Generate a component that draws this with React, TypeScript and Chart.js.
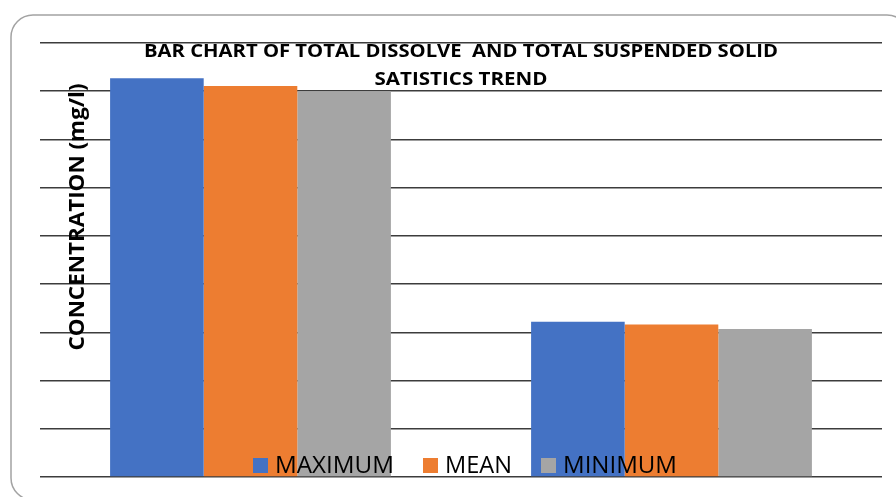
import React, { useEffect, useRef } from "react";
import { Chart, registerables } from "chart.js";

Chart.register(...registerables);

// Solid parameters on the category axis
const categories = ["TDS", "TSS"];

// Concentration statistics (mg/l)
const maximumValues = [827, 322];
const meanValues = [811, 316];
const minimumValues = [800, 307];

// Hidden value axis range
const axisMin = 0;
const axisMax = 900;
const axisStep = 100;

const titleLines = [
  "BAR CHART OF TOTAL DISSOLVE  AND TOTAL SUSPENDED SOLID",
  "SATISTICS TREND",
];
const yAxisTitle = "CONCENTRATION (mg/l)";

const seriesNames = ["MAXIMUM", "MEAN", "MINIMUM"];
const seriesColors = ["#4472C4", "#ED7D31", "#A5A5A5"];

// Draws text squeezed horizontally so it fits a given width (Calibri-like narrow look)
function fitText(
  ctx: CanvasRenderingContext2D,
  text: string,
  x: number,
  y: number,
  width: number
) {
  const natural = ctx.measureText(text).width;
  const sx = natural > 0 ? width / natural : 1;
  ctx.save();
  ctx.translate(x, y);
  ctx.scale(sx, 1);
  ctx.textAlign = "center";
  ctx.fillText(text, 0, 0);
  ctx.restore();
}

const framePlugin = {
  id: "frame",
  beforeDraw(chart: any) {
    const ctx = chart.ctx as CanvasRenderingContext2D;
    ctx.save();
    ctx.fillStyle = "#ffffff";
    ctx.fillRect(0, 0, chart.width, chart.height);
    ctx.strokeStyle = "#a3a3a3";
    ctx.lineWidth = 1.5;
    ctx.beginPath();
    (ctx as any).roundRect(11, 15, 898, 485, 22);
    ctx.stroke();
    ctx.restore();
  },
};

const overlayPlugin = {
  id: "overlay",
  afterDraw(chart: any) {
    const ctx = chart.ctx as CanvasRenderingContext2D;
    const area = chart.chartArea;
    const cx = (area.left + area.right) / 2;

    // Title
    ctx.save();
    ctx.fillStyle = "#000000";
    ctx.textBaseline = "alphabetic";
    ctx.font = "bold 17px 'Open Sans', sans-serif";
    fitText(ctx, titleLines[0], cx, 57, 634);
    fitText(ctx, titleLines[1], cx, 85, 173);
    ctx.restore();

    // Vertical axis title
    ctx.save();
    ctx.fillStyle = "#000000";
    ctx.font = "bold 21px 'Open Sans', sans-serif";
    ctx.translate(84, 217);
    ctx.rotate(-Math.PI / 2);
    fitText(ctx, yAxisTitle, 0, 0, 267);
    ctx.restore();

    // Legend along the bottom, over the bars
    ctx.save();
    ctx.font = "23px 'Open Sans', sans-serif";
    ctx.textBaseline = "alphabetic";
    const baseline = 473;
    const box = 15;
    const boxGap = 7;
    const itemGap = 29;
    const textWidths = [119, 67, 114];
    let total = 0;
    seriesNames.forEach((_, i) => {
      total += box + boxGap + textWidths[i];
      if (i < seriesNames.length - 1) total += itemGap;
    });
    let x = cx + 4 - total / 2;
    seriesNames.forEach((name, i) => {
      ctx.fillStyle = seriesColors[i];
      ctx.fillRect(x, baseline - box, box, box);
      x += box + boxGap;
      ctx.fillStyle = "#000000";
      const w = textWidths[i];
      fitText(ctx, name, x + w / 2, baseline, w);
      x += w + itemGap;
    });
    ctx.restore();
  },
};

export default function App() {
  const canvasRef = useRef<HTMLCanvasElement | null>(null);

  useEffect(() => {
    document.body.style.margin = "0";
    const canvas = canvasRef.current;
    if (!canvas) return;

    const datasets = [maximumValues, meanValues, minimumValues].map(
      (values, i) => ({
        label: seriesNames[i],
        data: values,
        backgroundColor: seriesColors[i],
        borderWidth: 0,
        barPercentage: 1,
        categoryPercentage: 0.667,
      })
    );

    const chart = new Chart(canvas, {
      type: "bar",
      data: { labels: categories, datasets },
      options: {
        responsive: false,
        animation: false,
        devicePixelRatio: 1,
        layout: { padding: { left: 40, right: 14, top: 43, bottom: 20 } },
        plugins: {
          legend: { display: false },
          title: { display: false },
          tooltip: { enabled: false },
        },
        scales: {
          x: {
            display: false,
          },
          y: {
            min: axisMin,
            max: axisMax,
            ticks: { stepSize: axisStep, display: false },
            border: { display: false },
            grid: {
              color: "#3c3c3c",
              lineWidth: 1.5,
              drawTicks: false,
            },
            afterFit(scale: any) {
              scale.width = 0;
            },
          },
        },
      },
      plugins: [framePlugin, overlayPlugin],
    });

    return () => chart.destroy();
  }, []);

  return (
    <div style={{ width: 896, height: 497 }}>
      <canvas ref={canvasRef} width={896} height={497} />
    </div>
  );
}
